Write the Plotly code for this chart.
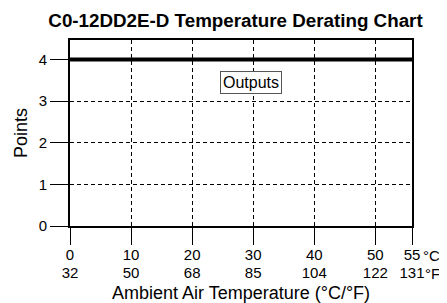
import plotly.graph_objects as go

# Data
temp_c_labels = ["0", "10", "20", "30", "40", "50", "55"]
temp_f_labels = ["32", "50", "68", "85", "104", "122", "131"]
temp_tick_pos = [0, 10, 20, 30, 40, 50, 56]
points_ticks = [0, 1, 2, 3, 4]
output_temp = [0, 56]
output_points = [4, 4]

FONT = "Liberation Sans, Arial, sans-serif"
# page body has an 8px default margin; figure is sized to fit the window
W, H = 439, 295

fig = go.Figure()
fig.add_trace(go.Scatter(x=output_temp, y=output_points, mode="lines",
                         line=dict(color="black", width=4), showlegend=False,
                         hoverinfo="skip"))
# invisible trace to activate the °F axis
fig.add_trace(go.Scatter(x=output_temp, y=output_points, mode="lines",
                         line=dict(color="rgba(0,0,0,0)", width=0), showlegend=False,
                         xaxis="x2", hoverinfo="skip"))

fig.update_layout(
    width=W, height=H,
    margin=dict(l=62, r=35, t=32, b=77, autoexpand=False),
    paper_bgcolor="white", plot_bgcolor="white",
    font=dict(family=FONT, color="black", size=15),
    title=dict(text="<b>C0-12DD2E-D Temperature Derating Chart</b>",
               x=(235.5 - 8) / W, xanchor="center", xref="container",
               y=1 - 12.5 / H, yanchor="middle", yref="container",
               automargin=False,
               font=dict(size=18.8, family=FONT)),
    xaxis=dict(range=[0, 56], tickvals=temp_tick_pos, ticktext=temp_c_labels,
               ticks="outside", ticklen=17, tickwidth=1, tickcolor="black",
               showgrid=True, gridcolor="black", gridwidth=1, griddash="4px,3px",
               showline=True, linecolor="black", linewidth=2, mirror=True,
               zeroline=False, tickfont=dict(size=15), automargin=False,
               ticklabelstandoff=-3, fixedrange=True),
    xaxis2=dict(range=[0, 56], tickvals=temp_tick_pos, ticktext=temp_f_labels,
                overlaying="x", side="bottom", anchor="y",
                ticks="outside", ticklen=33, tickcolor="rgba(0,0,0,0)",
                showgrid=False, showline=False, zeroline=False,
                tickfont=dict(size=15), automargin=False,
                title=dict(text="Ambient Air Temperature (°C/°F)", standoff=8,
                           font=dict(size=18))),
    yaxis=dict(range=[0, 4.47], tickvals=points_ticks,
               ticks="outside", ticklen=18, tickwidth=1, tickcolor="black",
               showgrid=True, gridcolor="black", gridwidth=1, griddash="4px,3px",
               showline=True, linecolor="black", linewidth=2, mirror=True,
               zeroline=False, tickfont=dict(size=15), automargin=False,
               title=dict(text="Points", standoff=6, font=dict(size=18))),
    annotations=[
        dict(text="Outputs", x=29.6, y=3.46, xref="x", yref="y", showarrow=False,
             bordercolor="#555555", borderwidth=1, borderpad=2,
             bgcolor="white", font=dict(size=16)),
        dict(text="°C", x=(442 - 70) / 342, y=0, xref="paper", yref="paper",
             xanchor="right", yanchor="middle", yshift=-29, showarrow=False,
             font=dict(size=15)),
        dict(text="°F", x=(442 - 70) / 342, y=0, xref="paper", yref="paper",
             xanchor="right", yanchor="middle", yshift=-47, showarrow=False,
             font=dict(size=15)),
    ],
)

fig.write_html("out.html")
